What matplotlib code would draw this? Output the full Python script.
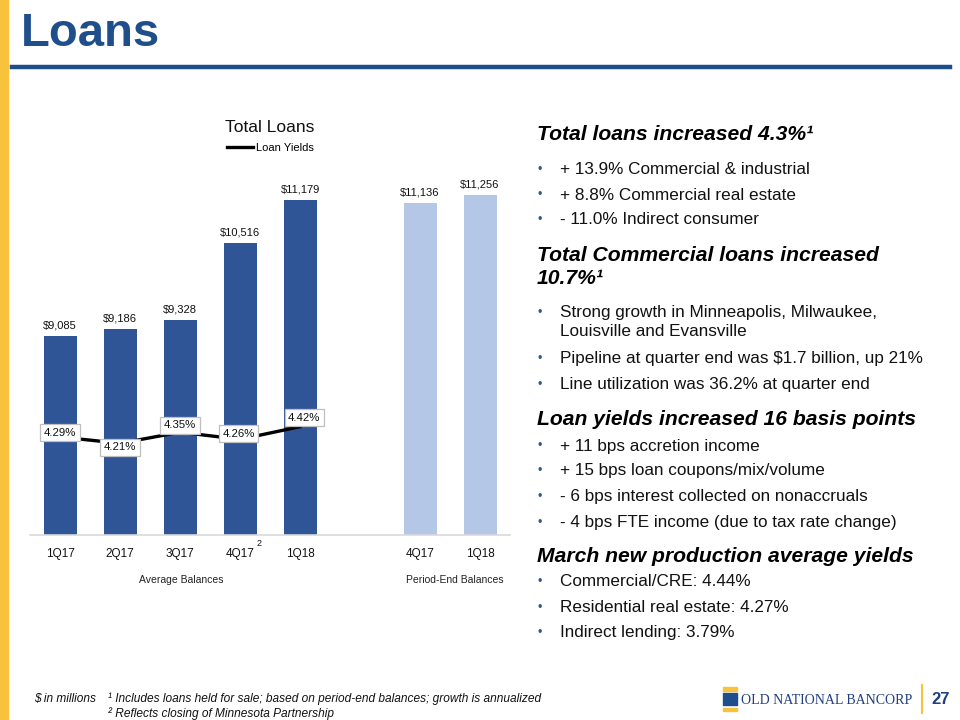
import matplotlib
matplotlib.use("Agg")
import matplotlib.pyplot as plt
from matplotlib.patches import Rectangle
from matplotlib.lines import Line2D

plt.rcParams['font.family'] = ['Liberation Sans', 'DejaVu Sans']

# data
avg_quarters = ['1Q17', '2Q17', '3Q17', '4Q17', '1Q18']
avg_balances = [9085, 9186, 9328, 10516, 11179]
end_quarters = ['4Q17', '1Q18']
end_balances = [11136, 11256]
loan_yields = [4.29, 4.21, 4.35, 4.26, 4.42]
yield_offsets = [(0, 3), (0, -3), (0, 5), (-1, 4), (3, 6.5)]  # label placement (pt)

DARK = '#2F5597'
LIGHT = '#B4C7E7'
NAVY = '#1F4E8C'
GOLD = '#F7C33C'

fig = plt.figure(figsize=(9.6, 7.2), dpi=100)
W, H = 960.0, 720.0


def fx(x):
    return x / W


def fy(y):
    return 1 - y / H


# slide decoration
fig.patches.append(Rectangle((0, 0), fx(8), 1, transform=fig.transFigure,
                             color=GOLD, zorder=0))
fig.add_artist(Line2D([fx(12), fx(950)], [fy(67), fy(67)], color=NAVY, lw=3.2))
fig.text(fx(21), fy(34), 'Loans', fontsize=34, fontweight='bold', color=NAVY,
         va='center', ha='left')

# chart
ax = fig.add_axes([fx(30), fy(535), fx(480), (535 - 150) / H])
avg_x = list(range(len(avg_quarters)))
end_x = [len(avg_quarters) + 1 + i for i in range(len(end_quarters))]

b1 = ax.bar(avg_x, avg_balances, width=0.55, color=DARK, zorder=2)
b2 = ax.bar(end_x, end_balances, width=0.55, color=LIGHT, zorder=2)
for bars, vals in ((b1, avg_balances), (b2, end_balances)):
    for rect, v in zip(bars, vals):
        ax.annotate('${:,}'.format(v), (rect.get_x() + rect.get_width() / 2, v),
                    xytext=(0, 4), textcoords='offset points', ha='center',
                    va='bottom', fontsize=8, color='#111111')

ax.set_ylim(6020, 11950)
ax.set_xlim(-0.5, 7.5)
ax.set_yticks([])
ax.set_xticks(avg_x + end_x)
ax.set_xticklabels(avg_quarters + end_quarters, fontsize=8.5, color='#111111')
ax.tick_params(axis='x', length=0, pad=9)
for s in ['top', 'left', 'right']:
    ax.spines[s].set_visible(False)
ax.spines['bottom'].set_color('#D9D9D9')
ax.spines['bottom'].set_linewidth(1.2)
ax.patch.set_alpha(0)

ax.annotate('2', xy=(3, 0), xycoords=('data', 'axes fraction'),
            xytext=(13.5, -6), textcoords='offset points', fontsize=6.5,
            ha='center', va='center', color='#111111')

ax2 = ax.twinx()
ax2.set_ylim(3.05, 7.92)
ax2.axis('off')
line, = ax2.plot(avg_x, loan_yields, color='black', lw=2.4, label='Loan Yields',
                 zorder=3)
for x, v, off in zip(avg_x, loan_yields, yield_offsets):
    ax2.annotate('{:.2f}%'.format(v), (x, v), xytext=off,
                 textcoords='offset points', ha='center', va='center',
                 fontsize=8.2, color='#111111', zorder=4,
                 bbox=dict(boxstyle='square,pad=0.3', fc='white', ec='#BFBFBF',
                           lw=0.9))

fig.text(fx(270), fy(127), 'Total Loans', fontsize=12.5, ha='center',
         va='center', color='#111111')
fig.legend(handles=[line], loc='center', bbox_to_anchor=(fx(270), fy(148)),
           frameon=False, fontsize=8, handlelength=2.4, handletextpad=0.2,
           borderaxespad=0, borderpad=0)

fig.text(fx(181), fy(580), 'Average Balances', fontsize=7.5, ha='center',
         va='center', color='#222222')
fig.text(fx(455), fy(580), 'Period-End Balances', fontsize=7.5, ha='center',
         va='center', color='#222222')

# commentary
heads = [
    (135, 'Total loans increased 4.3%\u00b9'),
    (255, 'Total Commercial loans increased'),
    (279, '10.7%\u00b9'),
    (419, 'Loan yields increased 16 basis points'),
    (557, 'March new production average yields'),
]
for y, t in heads:
    fig.text(fx(537), fy(y), t, fontsize=15.2, fontweight='bold', style='italic',
             ha='left', va='center', color='black')

bullets = [
    (170, '+ 13.9% Commercial & industrial', True),
    (195, '+ 8.8% Commercial real estate', True),
    (220, '- 11.0% Indirect consumer', True),
    (313, 'Strong growth in Minneapolis, Milwaukee,', True),
    (332, 'Louisville and Evansville', False),
    (359, 'Pipeline at quarter end was $1.7 billion, up 21%', True),
    (385, 'Line utilization was 36.2% at quarter end', True),
    (446, '+ 11 bps accretion income', True),
    (471, '+ 15 bps loan coupons/mix/volume', True),
    (497, '- 6 bps interest collected on nonaccruals', True),
    (523, '- 4 bps FTE income (due to tax rate change)', True),
    (582, 'Commercial/CRE: 4.44%', True),
    (608, 'Residential real estate: 4.27%', True),
    (633, 'Indirect lending: 3.79%', True),
]
for y, t, dot in bullets:
    if dot:
        fig.text(fx(538), fy(y), '\u2022', fontsize=9, color=DARK, ha='left',
                 va='center')
    fig.text(fx(560), fy(y), t.replace('$', r'\$'), fontsize=12.3, ha='left',
             va='center', color='#111111')

# footer
fig.text(fx(34), fy(699), r'\$ in millions', fontsize=8.6,
         style='italic', va='center', color='#111111')
fig.text(fx(108), fy(699), '\u00b9 Includes loans held for sale; based on period-end balances; growth is annualized',
         fontsize=8.6, style='italic', va='center', color='#111111')
fig.text(fx(108), fy(714), '\u00b2 Reflects closing of Minnesota Partnership',
         fontsize=8.6, style='italic', va='center', color='#111111')

# logo
fig.patches.append(Rectangle((fx(723), fy(705)), fx(14), 12.5 / H,
                             transform=fig.transFigure, color=NAVY))
fig.patches.append(Rectangle((fx(723), fy(690.5)), fx(14), 3.5 / H,
                             transform=fig.transFigure, color=GOLD))
fig.patches.append(Rectangle((fx(723), fy(711)), fx(14), 3.5 / H,
                             transform=fig.transFigure, color=GOLD))
fig.text(fx(741), fy(700), 'OLD NATIONAL BANCORP', family='Liberation Serif',
         fontsize=10, color='#1F3F7F', ha='left', va='center')
fig.add_artist(Line2D([fx(922), fx(922)], [fy(685), fy(713)], color=GOLD, lw=1.5))
fig.text(fx(941), fy(699), '27', fontsize=12, fontweight='bold', color='#1F3F7F',
         ha='center', va='center')

fig.savefig('out.png', dpi=100)
